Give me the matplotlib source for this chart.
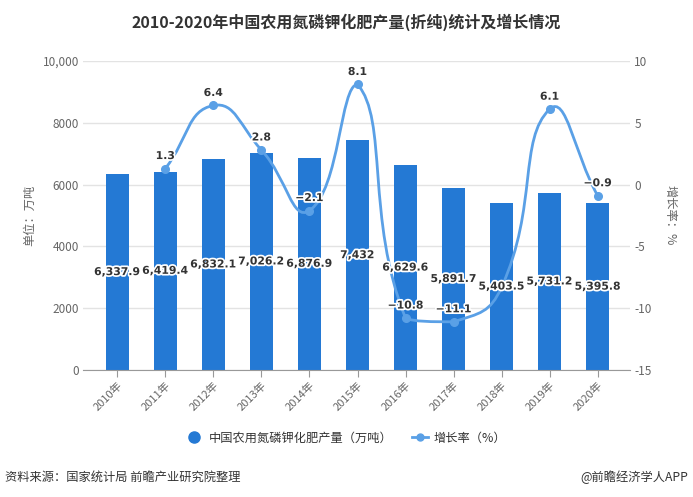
import numpy as np
import matplotlib
matplotlib.use('Agg')
import matplotlib.pyplot as plt
from matplotlib.path import Path
from matplotlib.patches import PathPatch
from matplotlib.lines import Line2D
import matplotlib.patheffects as pe

plt.rcParams['font.family'] = ['Noto Sans CJK SC', 'DejaVu Sans']

# ---------------- data ----------------
years = ['2010年', '2011年', '2012年', '2013年', '2014年', '2015年',
         '2016年', '2017年', '2018年', '2019年', '2020年']
output = [6337.9, 6419.4, 6832.1, 7026.2, 6876.9, 7432.0,
          6629.6, 5891.7, 5403.5, 5731.2, 5395.8]
output_labels = ['6,337.9', '6,419.4', '6,832.1', '7,026.2', '6,876.9', '7,432',
                 '6,629.6', '5,891.7', '5,403.5', '5,731.2', '5,395.8']
growth = [np.nan, 1.3, 6.4, 2.8, -2.1, 8.1, -10.8, -11.1, -8.3, 6.1, -0.9]
growth_marked = [False, True, True, True, True, True, True, True, False, True, True]
left_ticks = [0, 2000, 4000, 6000, 8000, 10000]
left_tick_labels = ['0', '2000', '4000', '6000', '8000', '10,000']
right_ticks = [-15, -10, -5, 0, 5, 10]
right_tick_labels = ['-15', '-10', '-5', '0', '5', '10']

BAR_C = '#2479D4'
LINE_C = '#5AA0E6'
W, H = 693, 497

fig = plt.figure(figsize=(W / 100, H / 100), dpi=100)
ax = fig.add_axes([83 / W, 127 / H, (630 - 83) / W, (370 - 61) / H])
x = np.arange(len(years))
ax.set_xlim(-(117.3 - 83) / 48, 10 + (630 - 597.7) / 48)
ax.set_ylim(0, 10000)
ax.bar(x, output, width=0.48, color=BAR_C, zorder=2)
ax.set_yticks(left_ticks)
ax.set_yticklabels(left_tick_labels)
ax.grid(axis='y', color='#e3e3e3', lw=1, zorder=0)
ax.set_axisbelow(True)
for s in ['left', 'right', 'top']:
    ax.spines[s].set_visible(False)
ax.spines['bottom'].set_color('#999999')
ax.tick_params(axis='y', length=0, colors='#666666', labelsize=8.5, pad=3)
ax.tick_params(axis='x', length=5, color='#999999', labelcolor='#666666', labelsize=8, pad=2)
ax.set_xticks(x)
ax.set_xticklabels(years, rotation=45, ha='right', rotation_mode='anchor')

ax2 = ax.twinx()
ax2.set_ylim(-15, 10)
ax2.set_yticks(right_ticks)
ax2.set_yticklabels(right_tick_labels)
for s in ['left', 'right', 'top', 'bottom']:
    ax2.spines[s].set_visible(False)
ax2.tick_params(axis='y', length=0, colors='#666666', labelsize=8.5, pad=3)

# ---- smooth line (echarts-like bezier smoothing, in pixel space) ----
sx, sy = 48.0, 309.0 / 25.0
idx = [i for i, g in enumerate(growth) if not np.isnan(g)]
pts = np.array([[i * sx, growth[i] * sy] for i in idx])
smooth = 0.5
mn, mx = pts.min(axis=0), pts.max(axis=0)
cps = []
n = len(pts)
for k in range(n):
    p = pts[k]
    prev = pts[k - 1] if k > 0 else p
    nxt = pts[k + 1] if k < n - 1 else p
    v = (nxt - prev) * smooth
    d0 = np.hypot(*(p - prev))
    d1 = np.hypot(*(p - nxt))
    s = d0 + d1
    if s > 0:
        d0 /= s
        d1 /= s
    c0 = np.clip(p - v * d0, mn, mx)
    c1 = np.clip(p + v * d1, mn, mx)
    cps.append((c0, c1))
verts = [pts[0]]
codes = [Path.MOVETO]
for k in range(n - 1):
    verts += [cps[k][1], cps[k + 1][0], pts[k + 1]]
    codes += [Path.CURVE4] * 3
verts = np.array(verts) / np.array([sx, sy])
path = Path(verts, codes)
ax2.add_patch(PathPatch(path, facecolor='none', edgecolor=LINE_C, lw=2, zorder=3))
mk = [i for i in idx if growth_marked[i]]
ax2.plot(mk, [growth[i] for i in mk], 'o', color=LINE_C, markersize=5.5, zorder=4)

stroke = [pe.withStroke(linewidth=2.5, foreground='white')]
for i in mk:
    g = growth[i]
    txt = ('%.1f' % g).replace('-', '\u2212')
    ax2.annotate(txt, (i, g), xytext=(0, 9), textcoords='offset points',
                 ha='center', va='center', fontsize=7.8, fontweight='bold',
                 color='#333333', family='DejaVu Sans', path_effects=stroke, zorder=6)
for i, v in enumerate(output):
    ax2.text(i, v / 2, output_labels[i], transform=ax.transData, ha='center', va='center',
             fontsize=7.8, fontweight='bold', color='#333333', family='DejaVu Sans',
             path_effects=stroke, zorder=5)

# ---- axis names ----
fig.text(30 / W, 1 - 215 / H, '单位：万吨', rotation=90, ha='center', va='center',
         fontsize=8.8, color='#666666')
fig.text(670 / W, 1 - 215 / H, '增长率：%', rotation=-90, ha='center', va='center',
         fontsize=8.8, color='#666666')

# ---- title ----
fig.text(0.5, 1 - 22 / H, '2010-2020年中国农用氮磷钾化肥产量(折纯)统计及增长情况',
         ha='center', va='center', fontsize=11.5, fontweight='bold', color='#333333')

# ---- legend ----
h1 = Line2D([], [], marker='o', ls='none', color=BAR_C, markersize=8)
h2 = Line2D([], [], marker='o', color=LINE_C, lw=2, markersize=5)
leg = fig.legend([h1, h2], ['中国农用氮磷钾化肥产量（万吨）', '增长率（%）'],
                 loc='center', bbox_to_anchor=(0.5, 1 - 438 / H), ncol=2, frameon=False,
                 fontsize=8.8, handlelength=1.3, handletextpad=0.5, columnspacing=1.6)
for t in leg.get_texts():
    t.set_color('#333333')

# ---- footer ----
fig.text(5 / W, 1 - 477 / H, '资料来源：国家统计局 前瞻产业研究院整理', ha='left', va='center',
         fontsize=8.8, color='#333333')
fig.text(688 / W, 1 - 477 / H, '@前瞻经济学人APP', ha='right', va='center',
         fontsize=8.8, color='#333333')

fig.savefig('out.png', dpi=100)
